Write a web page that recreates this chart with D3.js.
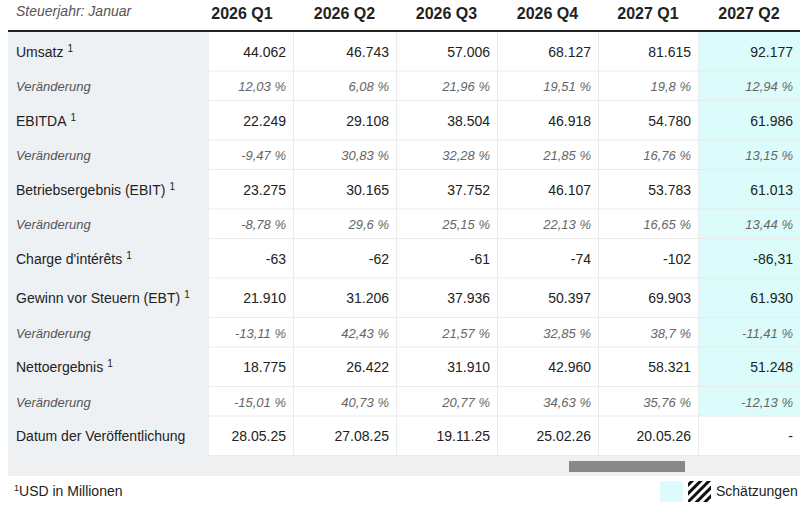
<!DOCTYPE html>
<html>
<head>
<meta charset="utf-8">
<title>Finanzdaten</title>
<script src="https://d3js.org/d3.v7.min.js"></script>
<style>
  body { margin: 0; background: #fff; }
  text { font-family: "Liberation Sans", Arial, sans-serif; }
</style>
</head>
<body>
<svg id="tbl" width="802" height="506"></svg>
<script>
// ---------------- data ----------------
var quarters = ["2026 Q1", "2026 Q2", "2026 Q3", "2026 Q4", "2027 Q1", "2027 Q2"];
var estimated = [false, false, false, false, false, true];

var rowLabels = ["Umsatz", "Veränderung", "EBITDA", "Veränderung",
                 "Betriebsergebnis (EBIT)", "Veränderung", "Charge d'intérêts",
                 "Gewinn vor Steuern (EBT)", "Veränderung", "Nettoergebnis",
                 "Veränderung", "Datum der Veröffentlichung"];
var rowKind = ["main", "chg", "main", "chg", "main", "chg", "main",
               "main", "chg", "main", "chg", "main"];
var rowNote = [true, false, true, false, true, false, true, true, false, true, false, false];

var umsatz        = ["44.062", "46.743", "57.006", "68.127", "81.615", "92.177"];
var umsatzChg     = ["12,03 %", "6,08 %", "21,96 %", "19,51 %", "19,8 %", "12,94 %"];
var ebitda        = ["22.249", "29.108", "38.504", "46.918", "54.780", "61.986"];
var ebitdaChg     = ["-9,47 %", "30,83 %", "32,28 %", "21,85 %", "16,76 %", "13,15 %"];
var ebit          = ["23.275", "30.165", "37.752", "46.107", "53.783", "61.013"];
var ebitChg       = ["-8,78 %", "29,6 %", "25,15 %", "22,13 %", "16,65 %", "13,44 %"];
var zinsen        = ["-63", "-62", "-61", "-74", "-102", "-86,31"];
var ebt           = ["21.910", "31.206", "37.936", "50.397", "69.903", "61.930"];
var ebtChg        = ["-13,11 %", "42,43 %", "21,57 %", "32,85 %", "38,7 %", "-11,41 %"];
var netto         = ["18.775", "26.422", "31.910", "42.960", "58.321", "51.248"];
var nettoChg      = ["-15,01 %", "40,73 %", "20,77 %", "34,63 %", "35,76 %", "-12,13 %"];
var datum         = ["28.05.25", "27.08.25", "19.11.25", "25.02.26", "20.05.26", "-"];

var rowValues = [umsatz, umsatzChg, ebitda, ebitdaChg, ebit, ebitChg, zinsen,
                 ebt, ebtChg, netto, nettoChg, datum];

// ---------------- layout ----------------
var left = 8, right = 800, labelW = 201;
var headerLine = 31;
var hidden = 18; // first column is scrolled partly under the sticky label column
var colW = [84, 103, 101, 101, 100, 102];
var colEdges = [left + labelW];
colW.forEach(function(w, i) { colEdges.push(colEdges[i] + w); });

var x0 = d3.scaleOrdinal().domain(quarters).range(colEdges.slice(0, 6));
var xw = d3.scaleOrdinal().domain(quarters).range(colW);

var rowH = rowKind.map(function(k) { return k === "main" ? 39.5 : 29.5; });
var rowTop = [headerLine + 1];
rowH.forEach(function(h, i) { rowTop.push(rowTop[i] + h); });
var y = d3.scaleOrdinal().domain(d3.range(rowLabels.length)).range(rowTop);

var svg = d3.select("#tbl");

// header
svg.append("text")
   .attr("x", 16).attr("y", 16)
   .style("font-size", "14px").style("font-style", "italic").style("fill", "#555")
   .text("Steuerjahr: Januar");

svg.selectAll("text.hdr")
   .data(quarters)
   .enter().append("text")
   .attr("class", "hdr")
   .attr("x", function(d, i) {
     var start = x0(d) - (i === 0 ? hidden : 0);
     return (start + x0(d) + xw(d)) / 2;
   })
   .attr("y", 19)
   .attr("text-anchor", "middle")
   .style("font-size", "16px").style("font-weight", "bold").style("fill", "#222")
   .text(function(d) { return d; });

// body backgrounds
var tableBottom = rowTop[rowTop.length - 1];
svg.append("rect")
   .attr("x", left).attr("y", headerLine)
   .attr("width", labelW).attr("height", tableBottom - headerLine)
   .style("fill", "#eef1f4");

svg.selectAll("rect.est")
   .data(quarters.filter(function(d, i) { return estimated[i]; }))
   .enter().append("rect")
   .attr("class", "est")
   .attr("x", function(d) { return x0(d); })
   .attr("y", headerLine)
   .attr("width", function(d) { return xw(d); })
   .attr("height", y(rowLabels.length - 1) - headerLine)
   .style("fill", "#dcfcfb");

// grid lines
svg.selectAll("line.row")
   .data(d3.range(1, rowLabels.length + 1))
   .enter().append("line")
   .attr("class", "row")
   .attr("x1", colEdges[0]).attr("x2", right)
   .attr("y1", function(i) { return rowTop[i] - 0.5; })
   .attr("y2", function(i) { return rowTop[i] - 0.5; })
   .style("stroke", "#ebebeb");

svg.selectAll("line.col")
   .data(colEdges.slice(1, 6))
   .enter().append("line")
   .attr("class", "col")
   .attr("x1", function(d) { return d + 0.5; })
   .attr("x2", function(d) { return d + 0.5; })
   .attr("y1", headerLine).attr("y2", tableBottom)
   .style("stroke", "#ebebeb");

svg.append("line")
   .attr("x1", left).attr("x2", right)
   .attr("y1", headerLine).attr("y2", headerLine)
   .style("stroke", "#222").style("stroke-width", 2);

// row labels
var labels = svg.selectAll("text.lbl")
   .data(rowLabels)
   .enter().append("text")
   .attr("class", "lbl")
   .attr("x", 16)
   .attr("y", function(d, i) { return y(i) + rowH[i] / 2 + 5; })
   .style("font-size", function(d, i) { return rowKind[i] === "main" ? "14px" : "13px"; })
   .style("font-style", function(d, i) { return rowKind[i] === "main" ? "normal" : "italic"; })
   .style("fill", function(d, i) { return rowKind[i] === "main" ? "#222" : "#555"; });
labels.append("tspan").text(function(d) { return d; });
labels.filter(function(d, i) { return rowNote[i]; })
   .append("tspan")
   .attr("dx", 4).attr("dy", -5)
   .style("font-size", "10px")
   .text("1");

// cells
rowValues.forEach(function(vals, r) {
  svg.selectAll("text.c" + r)
     .data(vals)
     .enter().append("text")
     .attr("class", "c" + r)
     .attr("x", function(d, i) { return x0(quarters[i]) + xw(quarters[i]) - 7; })
     .attr("y", y(r) + rowH[r] / 2 + 5)
     .attr("text-anchor", "end")
     .style("font-size", rowKind[r] === "main" ? "14px" : "13px")
     .style("font-style", rowKind[r] === "main" ? "normal" : "italic")
     .style("fill", rowKind[r] === "main" ? "#222" : "#666")
     .text(function(d) { return d; });
});

// scroll bar
svg.append("rect")
   .attr("x", left).attr("y", tableBottom)
   .attr("width", right - left).attr("height", 20)
   .style("fill", "#f0f0f0");
svg.append("rect")
   .attr("x", 569).attr("y", tableBottom + 5)
   .attr("width", 116).attr("height", 11)
   .style("fill", "#888");

// footnote
var foot = svg.append("text")
   .attr("x", 14).attr("y", 496)
   .style("font-size", "14px").style("fill", "#222");
foot.append("tspan").attr("dy", -5).style("font-size", "9px").text("1");
foot.append("tspan").attr("dy", 5).text("USD in Millionen");

// legend
var defs = svg.append("defs");
var pat = defs.append("pattern")
   .attr("id", "hatch").attr("patternUnits", "userSpaceOnUse")
   .attr("width", 6).attr("height", 6)
   .attr("patternTransform", "rotate(45)");
pat.append("rect").attr("width", 3).attr("height", 6).style("fill", "#111");

svg.append("rect")
   .attr("x", 660).attr("y", 481).attr("width", 23).attr("height", 21)
   .style("fill", "#dcfcfb");
svg.append("rect")
   .attr("x", 688).attr("y", 481).attr("width", 23).attr("height", 21)
   .style("fill", "url(#hatch)");
svg.append("text")
   .attr("x", 716).attr("y", 496)
   .style("font-size", "14px").style("fill", "#222")
   .text("Schätzungen");
</script>
</body>
</html>
